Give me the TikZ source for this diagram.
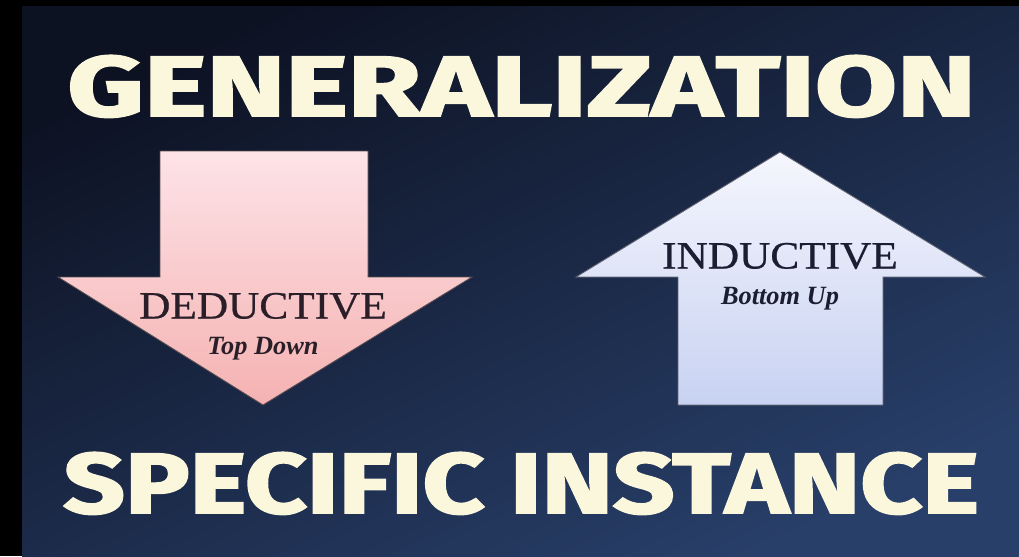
\documentclass[tikz,border=0pt]{standalone}
\usepackage{fontspec}
\usepackage{graphicx}
\setmainfont{Liberation Serif}
\newfontfamily\headfont{Fira Sans}[BoldFeatures={FakeBold=2.2}]
\newfontfamily\labelfont{Liberation Serif}[FakeBold=0.6]
\usetikzlibrary{positioning}
\definecolor{bgdark}{HTML}{0D1223}
\definecolor{bglight}{HTML}{283F69}
\definecolor{headcream}{HTML}{FBF7DC}
\definecolor{pinktop}{HTML}{FDE3E7}
\definecolor{pinkbot}{HTML}{F5B2B2}
\definecolor{lilactop}{HTML}{F5F6FD}
\definecolor{lilacbot}{HTML}{C8D2F2}
\definecolor{inkred}{HTML}{2A1E28}
\definecolor{inkblue}{HTML}{1B1D33}
\tikzset{
  headline/.style={inner sep=0pt, text=headcream, font=\headfont\bfseries},
  downarrow/.style={draw=inkred!80, line width=0.5pt, top color=pinktop, bottom color=pinkbot},
  uparrow/.style={draw=inkblue!70, line width=0.5pt, top color=lilactop, bottom color=lilacbot},
  arrowname/.style={inner sep=0pt, font=\labelfont\fontsize{22}{24}\selectfont, xscale=1.12},
  arrowsub/.style={inner sep=0pt, font=\fontsize{15}{17}\selectfont\bfseries\itshape}
}

\begin{document}
\begin{tikzpicture}[x=0.02cm, y=-0.02cm]
  % frame and backdrop
  \fill[black] (0,0) rectangle (1019,556);
  \shade[top color=bgdark, bottom color=bglight, shading angle=25] (22,6) rectangle (1019,556);
  \useasboundingbox (0,0) rectangle (1019,556);

  % headings
  \node[headline, anchor=base west] (general) at (67,116)
    {\resizebox{517pt}{34.5pt}{GENERALIZATION}};
  \node[headline, anchor=base west] (specific) at (63,513)
    {\resizebox{521pt}{34.5pt}{SPECIFIC INSTANCE}};

  % deductive: pointing down
  \filldraw[downarrow] (160,151) -- (368,151) -- (368,277) -- (472,277)
    -- (263,405) -- (58,277) -- (160,277) -- cycle;
  \node[arrowname, text=inkred] (deduct) at (263,306) {DEDUCTIVE};
  \node[arrowsub, text=inkred, below=10pt of deduct] (topdown) {Top Down};

  % inductive: pointing up
  \filldraw[uparrow] (780,152) -- (985,277) -- (883,277) -- (883,405)
    -- (678,405) -- (678,277) -- (576,277) -- cycle;
  \node[arrowname, text=inkblue] (induct) at (780,256) {INDUCTIVE};
  \node[arrowsub, text=inkblue, below=10pt of induct] (bottomup) {Bottom Up};
\end{tikzpicture}
\end{document}
